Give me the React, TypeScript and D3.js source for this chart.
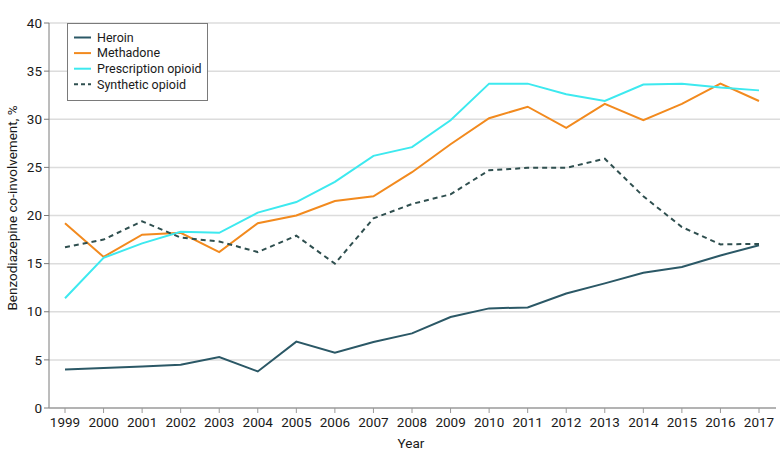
import React from "react";
import * as d3 from "d3";

const years = [1999,2000,2001,2002,2003,2004,2005,2006,2007,2008,2009,2010,2011,2012,2013,2014,2015,2016,2017];
const heroin = [4.0,4.15,4.3,4.5,5.3,3.8,6.9,5.75,6.85,7.75,9.45,10.35,10.45,11.9,12.95,14.05,14.65,15.85,16.9];
const methadone = [19.2,15.7,18.0,18.2,16.2,19.2,20.0,21.5,22.0,24.5,27.4,30.1,31.3,29.1,31.6,29.9,31.6,33.7,31.9];
const prescription = [11.4,15.6,17.1,18.3,18.2,20.3,21.4,23.5,26.2,27.1,29.9,33.7,33.7,32.6,31.9,33.6,33.7,33.3,33.0];
const synthetic = [16.7,17.5,19.4,17.7,17.3,16.2,17.9,15.0,19.7,21.2,22.2,24.7,24.95,24.95,25.9,22.0,18.8,17.0,17.05];
const yTicks = [0,5,10,15,20,25,30,35,40];
const seriesNames = ["Heroin","Methadone","Prescription opioid","Synthetic opioid"];

const W = 780, H = 461;
const FONT = "Roboto, 'Open Sans', sans-serif";

export default function App() {
  const x = d3.scaleLinear().domain([1999, 2017]).range([65, 759]);
  const y = d3.scaleLinear().domain([0, 40]).range([408, 23]);
  const line = (vals: number[]) =>
    d3.line<number>().x((_, i) => x(years[i])).y((d) => y(d))(vals) || "";

  const series = [
    { name: seriesNames[0], vals: heroin, color: "#2b5866", dash: "" },
    { name: seriesNames[1], vals: methadone, color: "#f28a1e", dash: "" },
    { name: seriesNames[2], vals: prescription, color: "#3de9ef", dash: "" },
    { name: seriesNames[3], vals: synthetic, color: "#2f4f4f", dash: "5,4" },
  ];

  return (
    <svg width={W} height={H} style={{ position: "absolute", left: 0, top: 0, background: "#fff" }} fontFamily={FONT}>
      {yTicks.filter((t) => t > 0).map((t) => (
        <line key={"g" + t} x1={49} x2={780} y1={y(t)} y2={y(t)} stroke="#dcdcdc" strokeWidth={1.5} />
      ))}
      <line x1={49} x2={49} y1={y(40)} y2={y(0)} stroke="#7a7a7a" strokeWidth={1} />
      <line x1={49} x2={776} y1={y(0)} y2={y(0)} stroke="#9a9a9a" strokeWidth={1.5} />
      {yTicks.map((t) => (
        <g key={"yt" + t}>
          <line x1={44} x2={49} y1={y(t)} y2={y(t)} stroke="#7a7a7a" />
          <text x={42} y={y(t)} dy="0.35em" textAnchor="end" fontSize={13.5} fill="#1a1a1a">{t}</text>
        </g>
      ))}
      {years.map((yr) => (
        <g key={"xt" + yr}>
          <line x1={x(yr)} x2={x(yr)} y1={y(0)} y2={y(0) + 5} stroke="#9a9a9a" />
          <text x={x(yr)} y={427} textAnchor="middle" fontSize={13.5} fill="#1a1a1a">{yr}</text>
        </g>
      ))}
      <text x={411} y={448} textAnchor="middle" fontSize={13.5} fill="#1a1a1a">Year</text>
      <text transform={`translate(17,208) rotate(-90)`} textAnchor="middle" fontSize={13.5} fill="#1a1a1a">
        Benzodiazepine co-involvement, %
      </text>
      {series.map((s) => (
        <path key={s.name} d={line(s.vals)} fill="none" stroke={s.color} strokeWidth={2} strokeDasharray={s.dash || undefined} />
      ))}
      <rect x={67.5} y={23.5} width={140} height={77} fill="#fff" stroke="#7a7a7a" strokeWidth={1} />
      {series.map((s, i) => (
        <g key={"lg" + s.name}>
          <line x1={74} x2={91} y1={37.5 + i * 15.6} y2={37.5 + i * 15.6} stroke={s.color} strokeWidth={2} strokeDasharray={s.dash ? "4,3" : undefined} />
          <text x={97} y={37.5 + i * 15.6} dy="0.35em" fontSize={12.5} fill="#1a1a1a">{s.name}</text>
        </g>
      ))}
    </svg>
  );
}
